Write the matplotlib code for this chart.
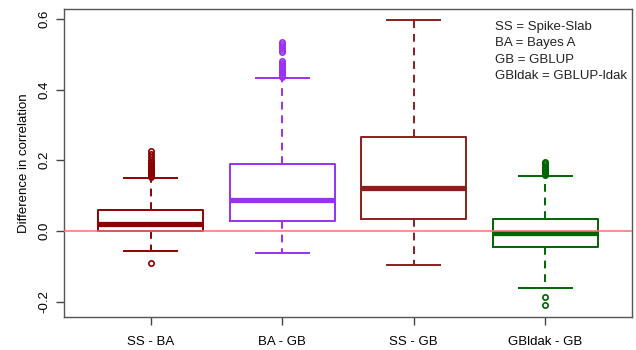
import matplotlib
matplotlib.use("Agg")
import matplotlib.pyplot as plt

plt.rcParams["font.family"] = ["Liberation Sans", "DejaVu Sans"]

# comparison labels and box summary values
labels = ["SS - BA", "BA - GB", "SS - GB", "GBldak - GB"]
colors = ["#8b0000", "#9a30f0", "#8b1f1f", "#006400"]
medians = [0.019, 0.087, 0.122, -0.005]
q1 = [0.001, 0.028, 0.035, -0.046]
q3 = [0.059, 0.190, 0.265, 0.035]
whisk_lo = [-0.057, -0.061, -0.095, -0.161]
whisk_hi = [0.149, 0.432, 0.597, 0.155]
fliers = [
    [-0.091, 0.152, 0.155, 0.158, 0.161, 0.164, 0.167, 0.170, 0.173, 0.176,
     0.179, 0.182, 0.186, 0.190, 0.195, 0.200, 0.209, 0.217, 0.226],
    [0.436, 0.441, 0.446, 0.451, 0.456, 0.461, 0.466, 0.471, 0.476, 0.481,
     0.505, 0.511, 0.517, 0.523, 0.530, 0.535],
    [],
    [-0.209, -0.186, 0.158, 0.162, 0.166, 0.170, 0.175, 0.180, 0.186,
     0.191, 0.196],
]
legend_lines = ["SS = Spike-Slab", "BA = Bayes A", "GB = GBLUP",
                "GBldak = GBLUP-ldak"]

fig = plt.figure(figsize=(6.36, 3.5), dpi=100)
ax = fig.add_axes([64 / 636, 33 / 350, 568 / 636, 308 / 350])

for i, lab in enumerate(labels):
    stats = [{
        "med": medians[i], "q1": q1[i], "q3": q3[i],
        "whislo": whisk_lo[i], "whishi": whisk_hi[i],
        "fliers": fliers[i], "label": lab,
    }]
    c = colors[i]
    ax.bxp(
        stats, positions=[i + 1], widths=0.8,
        boxprops=dict(color=c, linewidth=1.4),
        medianprops=dict(color=c, linewidth=3.8, solid_capstyle="butt"),
        whiskerprops=dict(color=c, linewidth=1.4, linestyle=(0, (4, 3))),
        capprops=dict(color=c, linewidth=1.4),
        flierprops=dict(marker="o", markerfacecolor="none",
                        markeredgecolor=c, markersize=3.8,
                        markeredgewidth=1.2),
        capwidths=0.4,
    )

ax.axhline(0, color="#ff7070", linewidth=1.1, zorder=5)

ax.set_xlim(0.34, 4.66)
ax.set_ylim(-0.2435, 0.628)
ax.set_xticks(range(1, 5))
ax.set_xticklabels(labels, fontsize=9.5)
ax.set_yticks([-0.2, 0.0, 0.2, 0.4, 0.6])
ax.set_yticklabels(["-0.2", "0.0", "0.2", "0.4", "0.6"], fontsize=9.5,
                   rotation=90, va="center")
ax.tick_params(axis="y", length=6, width=1, color="#444444", pad=4)
ax.tick_params(axis="x", length=6, width=1, color="#444444", pad=8)
ax.set_ylabel("Difference in correlation", fontsize=9.5, labelpad=6)
for sp in ax.spines.values():
    sp.set_color("#555555")
    sp.set_linewidth(1)

for k, line in enumerate(legend_lines):
    ax.text(0.759, 0.942 - k * 0.053, line, transform=ax.transAxes,
            fontsize=9.5, va="center", ha="left", color="#222222")

fig.savefig("out.png", dpi=100)
